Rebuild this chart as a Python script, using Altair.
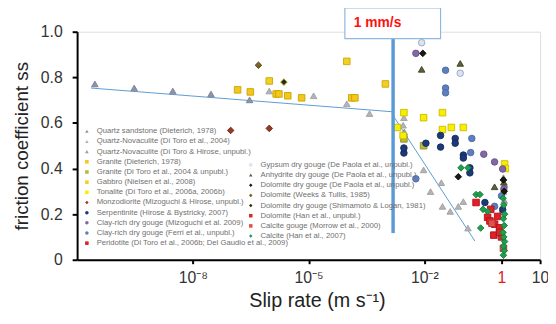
import math
import altair as alt
import pandas as pd

# ---------------- data (log10 of slip rate in m/s, steady-state friction) ----------------
left_names = [
    "Quartz sandstone (Dieterich, 1978)",
    "Quartz-Novaculite (Di Toro et al., 2004)",
    "Quartz-Novaculite (Di Toro & Hirose, unpubl.)",
    "Granite (Dieterich, 1978)",
    "Granite (Di Toro et al., 2004 & unpubl.)",
    "Gabbro (Nielsen et al., 2008)",
    "Tonalite (Di Toro et al., 2006a, 2006b)",
    "Monzodiorite (Mizoguchi & Hirose, unpubl.)",
    "Serpentinite (Hirose & Bystricky, 2007)",
    "Clay-rich dry gouge (Mizoguchi et al. 2009)",
    "Clay-rich dry gouge (Ferri et al., unpubl.)",
    "Peridotite (Di Toro et al., 2006b; Del Gaudio et al., 2009)",
]
left_colors = ["#8c93ab", "#b4b4b4", "#9c9c9c", "#f5c71a", "#b9b940", "#f2cf25", "#f8ee00",
               "#9a3a22", "#1d3a78", "#8468a3", "#5d7fbf", "#e41e26"]
left_strokes = ["#7a7f95", "#a0a0a0", "#888888", "#c9a200", "#8f8f20", "#c9a800", "#c8bc00",
                "#6a2010", "#142b5c", "#6a5088", "#4a68a0", "#b01018"]
left_shapes = ["triangle-up", "triangle-up", "triangle-up", "square", "square", "square", "square",
               "diamond", "circle", "circle", "circle", "square"]

right_names = [
    "Gypsum dry gouge (De Paola et al., unpubl.)",
    "Anhydrite dry gouge (De Paola et al., unpubl.)",
    "Dolomite dry gouge (De Paola et al., unpubl.)",
    "Dolomite (Weeks & Tullis, 1985)",
    "Dolomite dry gouge (Shimamoto & Logan, 1981)",
    "Dolomite (Han et al., unpubl.)",
    "Calcite gouge (Morrow et al., 2000)",
    "Calcite (Han et al., 2007)",
]
right_colors = ["#dde2ee", "#5e6238", "#1a1a12", "#7a6424", "#2c2c10", "#d82a2a", "#e4504a", "#1f9e4e"]
right_strokes = ["#93a3c8", "#3c3e20", "#000000", "#4e3e10", "#a0a020", "#a01818", "#b03030", "#137a36"]
right_shapes = ["circle", "triangle-up", "diamond", "diamond", "diamond", "square", "square", "diamond"]

quartz_sandstone_logv = [-10.54, -9.52, -8.52, -7.53, -6.53]
quartz_sandstone_mu = [0.771, 0.753, 0.740, 0.727, 0.701]

novaculite_logv = [-6.02, -4.87, -4.01, -3.42, -2.53, -2.55, -2.02, -1.84, -1.56, -1.53, -1.33, -1.12, -0.99, -0.87]
novaculite_mu = [0.740, 0.719, 0.684, 0.641, 0.623, 0.590, 0.394, 0.299, 0.338, 0.234, 0.212, 0.234, 0.255, 0.139]

novaculite2_logv = [0.05, 0.07, 0.03, 0.08, 0.05, -2.52]
novaculite2_mu = [0.300, 0.260, 0.220, 0.330, 0.360, 0.560]

granite_d_logv = [-6.84, -6.51, -5.84, -5.77, -5.54, -5.18, -3.88, -3.80]
granite_d_mu = [0.745, 0.736, 0.727, 0.727, 0.719, 0.710, 0.710, 0.710]

granite_t_logv = [-2.02, -2.53]
granite_t_mu = [0.500, 0.530]

gabbro_logv = [-6.02, -4.01, -3.01]
gabbro_mu = [0.784, 0.870, 0.771]

tonalite_logv = [-2.53, -2.02, -1.53, -1.53, -1.30, -0.99, -2.70, -2.55, 0.08, 0.10]
tonalite_mu = [0.645, 0.623, 0.645, 0.571, 0.580, 0.580, 0.580, 0.545, 0.420, 0.400]

monzodiorite_logv = [-7.02, -6.02]
monzodiorite_mu = [0.567, 0.576]

serpentinite_logv = [-1.58, -1.20, -1.96, -1.20, -1.58, -0.99, -0.99, -0.82, -0.82, -2.53, -2.53, -0.43, 0.03]
serpentinite_mu = [0.545, 0.532, 0.511, 0.511, 0.494, 0.459, 0.446, 0.403, 0.381, 0.468, 0.490, 0.251, 0.220]

clay_m_logv = [-2.22, -0.46, -0.18, 0.03, 0.06]
clay_m_mu = [0.905, 0.463, 0.429, 0.398, 0.310]

clay_f_logv = [-1.45, -1.45, -1.45, -0.77, -2.22, -0.18, 0.00, -0.80]
clay_f_mu = [0.831, 0.753, 0.732, 0.532, 0.355, 0.234, 0.280, 0.470]

peridotite_logv = [-0.66, -0.28, -0.18, -0.20, -0.36, -0.10, -0.05, -0.30]
peridotite_mu = [0.251, 0.221, 0.156, 0.108, 0.186, 0.190, 0.140, 0.170]

gypsum_logv = [-2.07, -1.07]
gypsum_mu = [0.952, 0.818]

anhydrite_logv = [-1.07, -2.07, -0.18, 0.06]
anhydrite_mu = [0.861, 0.835, 0.320, 0.340]

dolomite_dp_logv = [-2.04, -1.12, 0.05, 0.07]
dolomite_dp_mu = [0.905, 0.364, 0.350, 0.300]

dolomite_wt_logv = [-6.30]
dolomite_wt_mu = [0.853]

dolomite_sl_logv = [-5.64]
dolomite_sl_mu = [0.779]

dolomite_han_logv = [0.00, -0.05]
dolomite_han_mu = [0.100, 0.120]

calcite_gouge_logv = [-0.25, 0.05]
calcite_gouge_mu = [0.160, 0.050]

calcite_han_logv = [-1.05, -0.87, -0.66, -0.56, -0.48, -0.36, -0.54,
                    0.05, 0.07, 0.05, 0.08, 0.06, 0.04, 0.07, 0.05, 0.08, 0.06, 0.04]
calcite_han_mu = [0.403, 0.403, 0.286, 0.286, 0.221, 0.212, 0.139,
                  0.020, 0.040, 0.060, 0.080, 0.100, 0.120, 0.150, 0.180, 0.200, 0.240, 0.270]

trend_logv = [-10.64, -2.83]
trend_mu = [0.753, 0.649]
steep_logv = [-2.81, -0.69]
steep_mu = [0.632, 0.082]

mm_line_logv = -2.81
mm_line_mu = [0.117, 0.970]
box_logv = [-4.06, -1.58]
box_mu = [0.970, 1.104]
box_text_logv = -3.83
box_text_mu = 1.040
box_text = "1 mm/s"

x_tick_values = [1e-8, 1e-5, 1e-2, 1, 10]
x_tick_labels = ["10\u207b\u2078", "10\u207b\u2075", "10\u207b\u00b2", "1", "10"]
y_tick_values = [0, 0.2, 0.4, 0.6, 0.8, 1.0]

# ---------------- tables ----------------
left_data = [
    (quartz_sandstone_logv, quartz_sandstone_mu), (novaculite_logv, novaculite_mu),
    (novaculite2_logv, novaculite2_mu), (granite_d_logv, granite_d_mu),
    (granite_t_logv, granite_t_mu), (gabbro_logv, gabbro_mu), (tonalite_logv, tonalite_mu),
    (monzodiorite_logv, monzodiorite_mu), (serpentinite_logv, serpentinite_mu),
    (clay_m_logv, clay_m_mu), (clay_f_logv, clay_f_mu), (peridotite_logv, peridotite_mu),
]
right_data = [
    (gypsum_logv, gypsum_mu), (anhydrite_logv, anhydrite_mu), (dolomite_dp_logv, dolomite_dp_mu),
    (dolomite_wt_logv, dolomite_wt_mu), (dolomite_sl_logv, dolomite_sl_mu),
    (dolomite_han_logv, dolomite_han_mu), (calcite_gouge_logv, calcite_gouge_mu),
    (calcite_han_logv, calcite_han_mu),
]


def build(names, data):
    rows = []
    for name, (lv, mu) in zip(names, data):
        for a, b in zip(lv, mu):
            rows.append({"series": name, "rate": 10 ** a, "mu": b})
    return pd.DataFrame(rows)


df_left = build(left_names, left_data)
df_right = build(right_names, right_data)
df_trend = pd.DataFrame({"rate": [10 ** v for v in trend_logv], "mu": trend_mu})
df_steep = pd.DataFrame({"rate": [10 ** v for v in steep_logv], "mu": steep_mu})

label_expr = ""
for v, lab in zip(x_tick_values, x_tick_labels):
    label_expr += f"abs(log(datum.value)/LN10 - ({math.log10(v)})) < 0.1 ? '{lab}' : "
label_expr += "''"

FONT = "Liberation Sans"

x_enc = alt.X("rate:Q", scale=alt.Scale(type="log", domain=[1e-11, 10]),
              axis=alt.Axis(values=x_tick_values, labelExpr=label_expr, title="Slip rate (m s\u207b\u00b9)",
                            grid=False, labelFontSize=16, titleFontSize=20, titleFontWeight="normal",
                            labelColor={"condition": {"test": "datum.value == 1", "value": "#e02020"},
                                        "value": "#333333"},
                            titleColor="#222222", labelFont=FONT, titleFont=FONT,
                            domainColor="black", domainWidth=2, tickColor="black", tickWidth=2,
                            tickSize=4, labelPadding=6, titleX=243, titleY=31, titleBaseline="top",
                            titleAlign="center", labelFlush=False, labelOverlap=False))
y_enc = alt.Y("mu:Q", scale=alt.Scale(domain=[0, 1], nice=False),
              axis=alt.Axis(values=y_tick_values,
                            labelExpr="datum.value == 0 ? '0' : format(datum.value, '.1f')",
                            title="friction coefficient ss", grid=False, labelFontSize=16,
                            titleFontSize=19, titleFontWeight="normal", labelColor="#333333",
                            titleColor="#222222", labelFont=FONT, titleFont=FONT,
                            domainColor="black", domainWidth=2, tickColor="black", tickWidth=2,
                            tickSize=5, labelPadding=10, titlePadding=9))


def legend(x, y):
    return alt.Legend(title=None, orient="none", legendX=x, legendY=y, labelFontSize=7.8,
                      labelFont=FONT, labelColor="#6f6f6f", symbolSize=13, rowPadding=1.3,
                      padding=0, labelLimit=400, labelOffset=6, symbolStrokeWidth=0)


def points(df, names, colors, strokes, shapes, lx, ly):
    lg = legend(lx, ly)
    return alt.Chart(df).mark_point(filled=True, size=44, opacity=1, strokeWidth=0.9).encode(
        x=x_enc, y=y_enc,
        color=alt.Color("series:N", scale=alt.Scale(domain=names, range=colors), legend=lg),
        shape=alt.Shape("series:N", scale=alt.Scale(domain=names, range=shapes), legend=lg),
        stroke=alt.Stroke("series:N", scale=alt.Scale(domain=names, range=strokes), legend=None),
    )


trend = alt.Chart(df_trend).mark_line(color="#5b9bd5", strokeWidth=1).encode(x=x_enc, y=y_enc)
steep = alt.Chart(df_steep).mark_line(color="#5b9bd5", strokeWidth=1).encode(x=x_enc, y=y_enc)

vline = alt.Chart(pd.DataFrame({"rate": [10 ** mm_line_logv], "mu": [mm_line_mu[0]], "mu2": [mm_line_mu[1]]})).mark_rule(
    color="#5b9bd5", strokeWidth=3.5).encode(x="rate:Q", y="mu:Q", y2="mu2:Q")

box = alt.Chart(pd.DataFrame({"rate": [10 ** box_logv[0]], "rate2": [10 ** box_logv[1]],
                              "mu": [box_mu[0]], "mu2": [box_mu[1]]})).mark_rect(
    fill="white", stroke="#8fb8e0", strokeWidth=1.2).encode(x="rate:Q", x2="rate2:Q", y="mu:Q", y2="mu2:Q")

box_label = alt.Chart(pd.DataFrame({"rate": [10 ** box_text_logv], "mu": [box_text_mu], "t": [box_text]})).mark_text(
    align="left", baseline="middle", color="#ff1010", fontWeight="bold", fontSize=14, font=FONT).encode(
    x="rate:Q", y="mu:Q", text="t:N")

pts_left = points(df_left, left_names, left_colors, left_strokes, left_shapes, 6, 97)
pts_right = points(df_right, right_names, right_colors, right_strokes, right_shapes, 172, 131)

chart = alt.layer(trend, steep, pts_left, pts_right, vline, box, box_label).resolve_scale(
    color="independent", shape="independent", stroke="independent"
).properties(
    width=469, height=231,
    autosize=alt.AutoSizeParams(type="none"),
    padding={"left": 70, "top": 22, "right": 8, "bottom": 58},
).configure_view(stroke=None).configure(background="white")

chart.save("out.html", embed_options={"renderer": "svg", "actions": False})
